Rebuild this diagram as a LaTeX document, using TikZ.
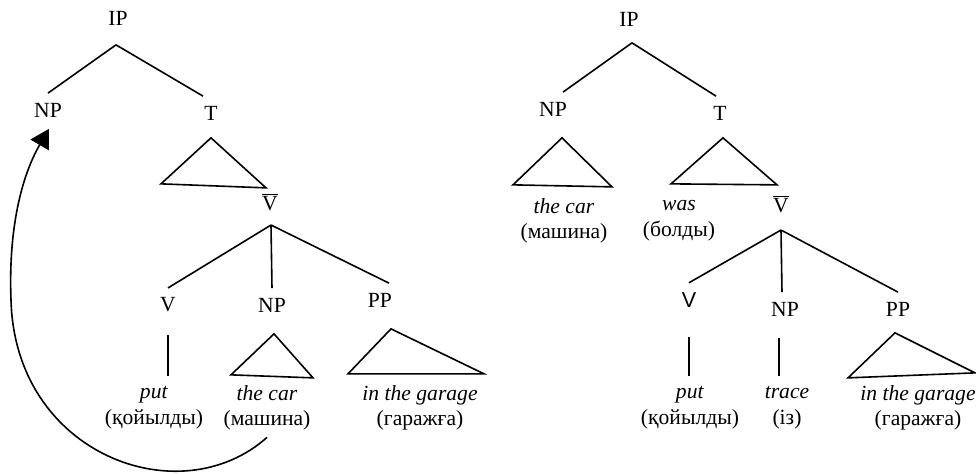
\documentclass[tikz,border=0pt]{standalone}
\usepackage{fontspec}
\setmainfont{Liberation Serif}
\setsansfont{Liberation Sans}
\usepackage{tikz}
\usetikzlibrary{arrows.meta,positioning,calc}

\begin{document}
\begin{tikzpicture}[
    x=0.5pt, y=-0.5pt,
    line width=0.8pt,
    font=\fontsize{10.8}{12.8}\selectfont,
    cat/.style={inner sep=4.5pt},
    leaf/.style={align=center, inner sep=0pt},
    move/.style={-{Triangle[length=9.3pt,width=10.5pt]}}
]
    \useasboundingbox (0,0) rectangle (976,474);

    % Left tree: before movement
    \node[cat] (lip) at (118,18) {IP};
    \node[cat] (lnp) at (48,110) {NP};
    \node[cat] (lt) at (211,113) {T};
    \node[cat] (lvb) at (270,202) {$\overline{\mbox{V}}$};
    \node[cat] (lv) at (168,305) {V};
    \node[cat] (lnpo) at (272,305) {NP};
    \node[cat] (lpp) at (380,300) {PP};
    \node[leaf] (lput) at (154,408) {\textit{put}\\(қойылды)};
    \node[leaf] (lcar) at (267,408) {\textit{the car}\\(машина)};
    \node[leaf] (lgar) at (420,408) {\textit{in the garage}\\(гаражға)};

    \coordinate (lip-a) at ($(lip.south)+(-2,10)$);
    \coordinate (lvb-a) at ($(lvb.south)+(1,4)$);

    \draw (lip-a) -- (lnp.north);
    \draw (lip-a) -- ([xshift=-4pt]lt.north);
    \draw (lvb-a) -- (lv.north);
    \draw (lvb-a) -- (lnpo.north);
    \draw (lvb-a) -- ([xshift=4.5pt]lpp.north);
    \draw[shorten <=6.5pt, shorten >=5pt] (lv.south) -- (lv.south |- lput.north);

    % roofs
    \draw ($(lt.south)+(0,8)$) -- +(-50,46) -- +(55,50) -- cycle;
    \draw ($(lnpo.south)+(2,12)$) -- +(-43,41) -- +(39,44) -- cycle;
    \draw ($(lpp.south)+(11,12)$) -- +(-43,45) -- +(93,45) -- cycle;

    % movement of the object
    \coordinate (mv-s) at ($(lcar.south)+(0,6)$);
    \coordinate (mv-e) at ($(lnp.south)+(1,2)$);
    \draw[move] (mv-s) .. controls (180,515) and (15,455) .. (11,300)
        .. controls (8,220) and (25,170) .. (mv-e);

    % Right tree: after movement
    \node[cat] (rip) at (629,19) {IP};
    \node[cat] (rnp) at (553,109) {NP};
    \node[cat] (rt) at (720,113) {T};
    \node[leaf] (rcar) at (564,221) {\textit{the car}\\(машина)};
    \node[leaf] (rwas) at (679,221) {\textit{was}\\(болды)};
    \node[cat] (rvb) at (781,204) {$\overline{\mbox{V}}$};
    \node[cat] (rv) at (689,300) {\sffamily V};
    \node[cat] (rnpo) at (785,309) {NP};
    \node[cat] (rpp) at (898,309) {PP};
    \node[leaf] (rput) at (690,408) {\textit{put}\\(қойылды)};
    \node[leaf] (rtr) at (787,408) {\textit{trace}\\(із)};
    \node[leaf] (rgar) at (918,408) {\textit{in the garage}\\(гаражға)};

    \coordinate (rip-a) at ($(rip.south)+(3,7)$);
    \coordinate (rvb-a) at ($(rvb.south)+(0,7)$);

    \draw (rip-a) -- ([xshift=5pt]rnp.north);
    \draw (rip-a) -- ([xshift=-2pt]rt.north);
    \draw (rvb-a) -- (rv.north);
    \draw (rvb-a) -- ([xshift=-1.5pt]rnpo.north);
    \draw (rvb-a) -- (rpp.north);
    \draw[shorten <=10pt, shorten >=5pt] (rv.south) -- (rv.south |- rput.north);
    \draw[shorten <=6pt, shorten >=5pt] ([xshift=-3pt]rnpo.south) -- ([xshift=-3pt]rnpo.south |- rtr.north);

    % roofs
    \draw ($(rnp.south)+(9,12)$) -- +(-49,47) -- +(50,49) -- cycle;
    \draw ($(rt.south)+(3,8)$) -- +(-52,46) -- +(54,47) -- cycle;
    \draw ($(rpp.south)+(-3,7)$) -- +(-47,45) -- +(80,40) -- cycle;
\end{tikzpicture}
\end{document}
